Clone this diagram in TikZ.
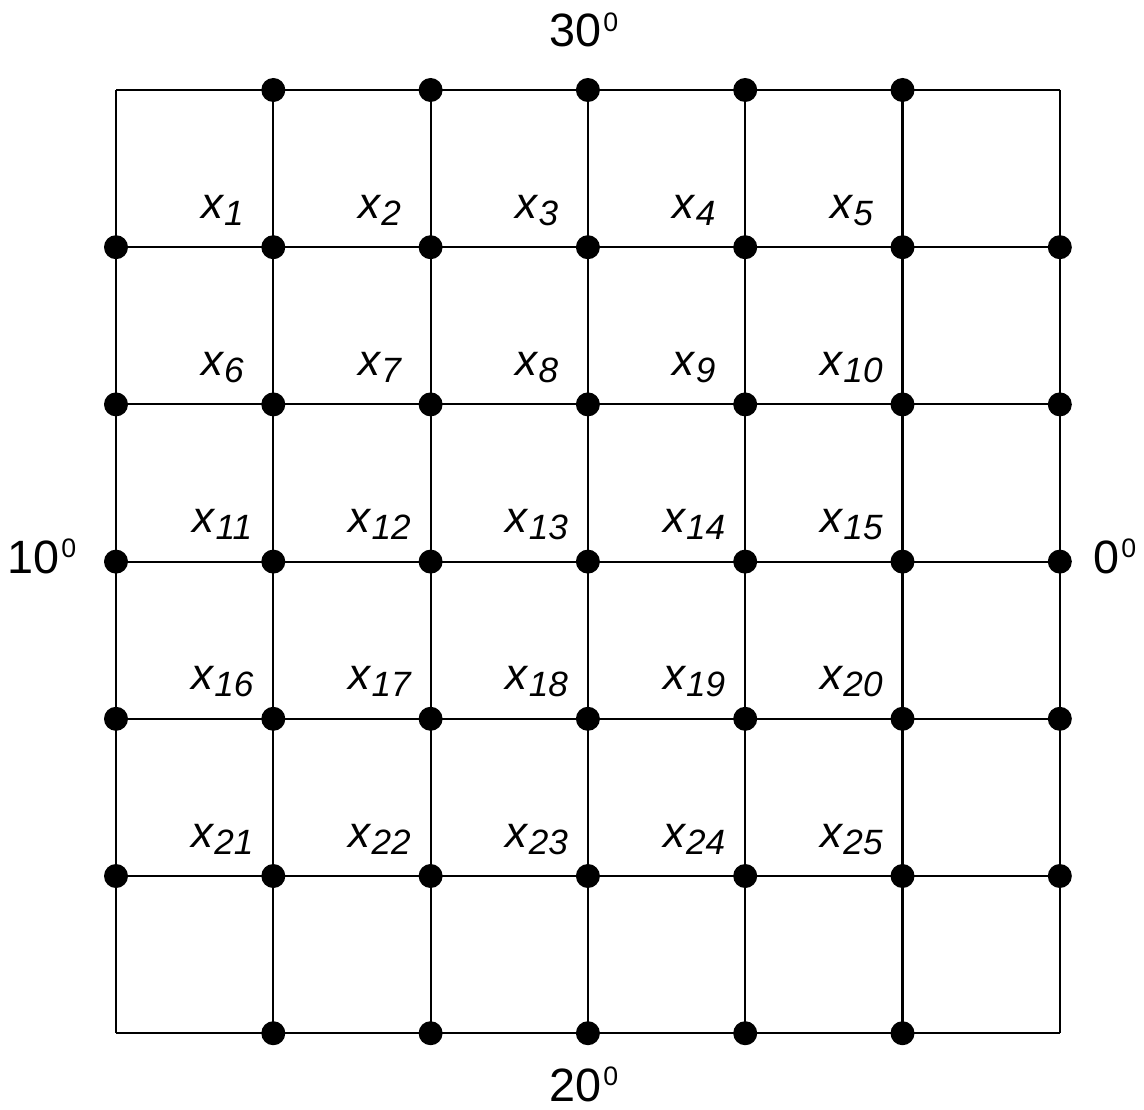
\documentclass[tikz,border=0pt]{standalone}
\usepackage{fontspec}
\setmainfont{Liberation Sans}
\usepackage{tikz}

\newcommand{\xsub}[1]{{\itshape x\kern0.3pt\raisebox{-2pt}{\fontsize{10}{10}\selectfont #1}}}
\newcommand{\degr}[1]{#1\kern0.5pt\raisebox{4.3pt}{\fontsize{7.6}{8}\selectfont 0}}

\begin{document}
\begin{tikzpicture}[
    dot/.style={circle, fill=black, inner sep=0pt, minimum size=0.24cm},
    var/.style={anchor=base, inner sep=0pt, font=\fontsize{12.5}{14}\selectfont},
    bound/.style={anchor=base, inner sep=0pt, font=\fontsize{13.3}{15}\selectfont}
]
    \useasboundingbox (0,0) rectangle (11.44,-11.09);

    % grid points
    \foreach \i in {0,...,6}
        \foreach \j in {0,...,6}
            \coordinate (p\i\j) at ({1.16 + 1.573*\i}, {-0.90 - 1.572*\j});

    % grid lines
    \foreach \i in {0,...,6} {
        \draw[line width=0.6pt] (p\i0) -- (p\i6);
        \draw[line width=0.6pt] (p0\i) -- (p6\i);
    }

    % dots on the border rows and inside
    \foreach \i in {1,...,5} {
        \node[dot] (t\i) at (p\i0) {};
        \node[dot] (b\i) at (p\i6) {};
    }
    \foreach \j in {1,...,5}
        \foreach \i in {0,...,6}
            \node[dot] (d\i\j) at (p\i\j) {};

    % unknowns
    \foreach \j in {1,...,5}
        \foreach \i in {1,...,5} {
            \pgfmathtruncatemacro{\k}{5*(\j-1) + \i}
            \node[var] (x\k) at ([xshift=-0.51cm, yshift=0.29cm] p\i\j) {\xsub{\k}};
        }

    % boundary values
    \node[bound] (top)    at (5.84, -0.47)  {\degr{30}};
    \node[bound] (bottom) at (5.84, -11.01) {\degr{20}};
    \node[bound] (left)   at (0.42, -5.73)  {\degr{10}};
    \node[bound] (right)  at (11.15, -5.73) {\degr{0}};
\end{tikzpicture}
\end{document}
